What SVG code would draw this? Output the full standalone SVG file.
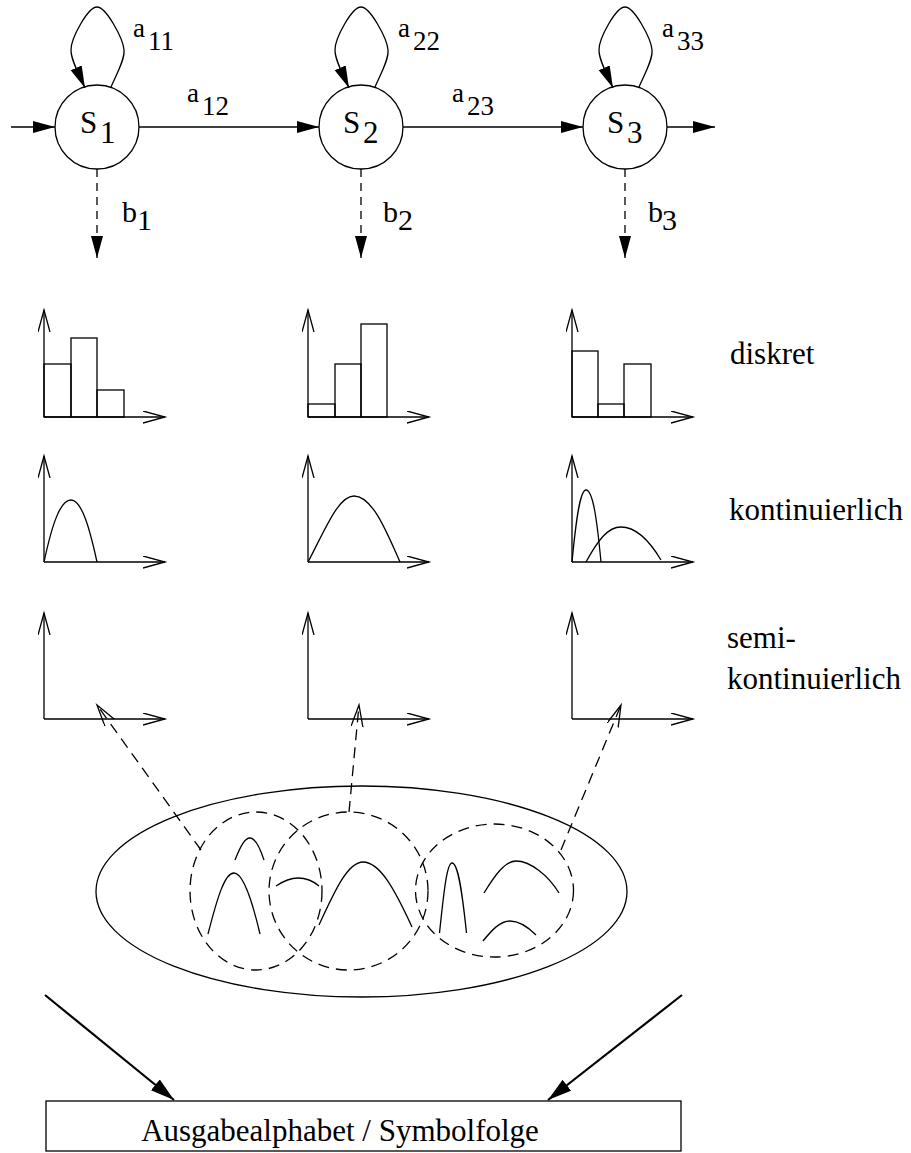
<svg xmlns="http://www.w3.org/2000/svg" width="911" height="1153" viewBox="0 0 911 1153" font-family="'Liberation Serif', 'Times New Roman', Times, serif">
  <style>
    .ln { fill: none; stroke: #000; stroke-width: 1.3; }
    .dash { fill: none; stroke: #000; stroke-width: 1.3; stroke-dasharray: 8 6; }
    .dashl { fill: none; stroke: #000; stroke-width: 1.3; stroke-dasharray: 11 7; }
    .thick { fill: none; stroke: #000; stroke-width: 2.2; }
    text { font-family: 'Liberation Serif', 'Times New Roman', Times, serif; fill: #000; }
    .lbl { font-size: 27px; }
    .lblb { font-size: 30px; }
    .big { font-size: 31px; }
  </style>
  <defs>
    <marker id="fill" markerUnits="userSpaceOnUse" markerWidth="24" markerHeight="14" refX="22" refY="6" orient="auto">
      <path d="M0,0 L22,6 L0,12 z" fill="#000" stroke="none"/>
    </marker>
    <marker id="fillbig" markerUnits="userSpaceOnUse" markerWidth="26" markerHeight="16" refX="24" refY="7" orient="auto">
      <path d="M0,0 L24,7 L0,14 z" fill="#000" stroke="none"/>
    </marker>
    <marker id="open" markerUnits="userSpaceOnUse" markerWidth="26" markerHeight="14" refX="22" refY="6" orient="auto">
      <path d="M0,0 L22,6 L0,12" fill="none" stroke="#000" stroke-width="1.3" stroke-dasharray="none"/>
    </marker>
  </defs>

  <!-- states -->
  <g id="s1">
    <circle class="ln" cx="97" cy="127" r="42"/>
    <text class="big" x="80" y="133">S<tspan x="100" y="143">1</tspan></text>
  </g>
  <g id="s2">
    <circle class="ln" cx="361" cy="127" r="42"/>
    <text class="big" x="343" y="133">S<tspan x="363" y="143">2</tspan></text>
  </g>
  <g id="s3">
    <circle class="ln" cx="625" cy="127" r="42"/>
    <text class="big" x="607" y="133">S<tspan x="627" y="143">3</tspan></text>
  </g>

  <!-- transition and emission labels -->
  <g id="labels">
    <text class="lbl" x="133" y="37">a<tspan x="148" y="50">11</tspan></text>
    <text class="lbl" x="398" y="37">a<tspan x="413" y="50">22</tspan></text>
    <text class="lbl" x="662" y="37">a<tspan x="677" y="50">33</tspan></text>
    <text class="lbl" x="187" y="102">a<tspan x="202" y="115">12</tspan></text>
    <text class="lbl" x="452" y="102">a<tspan x="467" y="115">23</tspan></text>
    <text class="lblb" x="122" y="222">b<tspan x="137" y="230">1</tspan></text>
    <text class="lblb" x="383" y="222">b<tspan x="398" y="230">2</tspan></text>
    <text class="lblb" x="648" y="222">b<tspan x="662" y="230">3</tspan></text>
  </g>

  <!-- connectors between states -->
  <g id="connectors">
    <!-- self loops -->
    <path class="ln" marker-end="url(#fill)" d="M111,87 C116,75 125,60 124,50 C123,38 106,7 97,7 C88,7 71,38 71,50 C71,60 78,72 85,88"/>
    <path class="ln" marker-end="url(#fill)" d="M375,87 C380,75 389,60 388,50 C387,38 370,7 361,7 C352,7 335,38 335,50 C335,60 342,72 349,88"/>
    <path class="ln" marker-end="url(#fill)" d="M639,87 C644,75 653,60 652,50 C651,38 634,7 625,7 C616,7 599,38 599,50 C599,60 606,72 613,88"/>
    <!-- entry, transitions, exit -->
    <line class="ln" marker-end="url(#fill)" x1="11" y1="127" x2="55" y2="127"/>
    <line class="ln" marker-end="url(#fill)" x1="139" y1="127" x2="319" y2="127"/>
    <line class="ln" marker-end="url(#fill)" x1="403" y1="127" x2="583" y2="127"/>
    <line class="ln" marker-end="url(#fill)" x1="667" y1="127" x2="715" y2="127"/>
    <!-- emissions -->
    <line class="dash" marker-end="url(#fill)" x1="97" y1="169" x2="97" y2="258"/>
    <line class="dash" marker-end="url(#fill)" x1="361" y1="169" x2="361" y2="258"/>
    <line class="dash" marker-end="url(#fill)" x1="625" y1="169" x2="625" y2="258"/>
  </g>

  <!-- discrete distributions -->
  <g id="diskret">
    <line class="ln" marker-end="url(#open)" x1="44" y1="417" x2="44" y2="310"/>
    <line class="ln" marker-end="url(#open)" x1="44" y1="417" x2="165" y2="417"/>
    <rect class="ln" x="44" y="364" width="27" height="53"/>
    <rect class="ln" x="71" y="338" width="26" height="79"/>
    <rect class="ln" x="97" y="390" width="27" height="27"/>

    <line class="ln" marker-end="url(#open)" x1="308" y1="417" x2="308" y2="310"/>
    <line class="ln" marker-end="url(#open)" x1="308" y1="417" x2="429" y2="417"/>
    <rect class="ln" x="308" y="404" width="27" height="13"/>
    <rect class="ln" x="335" y="364" width="26" height="53"/>
    <rect class="ln" x="361" y="324" width="26" height="93"/>

    <line class="ln" marker-end="url(#open)" x1="572" y1="417" x2="572" y2="310"/>
    <line class="ln" marker-end="url(#open)" x1="572" y1="417" x2="693" y2="417"/>
    <rect class="ln" x="572" y="351" width="26" height="66"/>
    <rect class="ln" x="598" y="404" width="26" height="13"/>
    <rect class="ln" x="624" y="364" width="27" height="53"/>

    <text class="big" x="730" y="364">diskret</text>
  </g>

  <!-- continuous distributions -->
  <g id="kontinuierlich">
    <line class="ln" marker-end="url(#open)" x1="44" y1="562" x2="44" y2="456"/>
    <line class="ln" marker-end="url(#open)" x1="44" y1="562" x2="165" y2="562"/>
    <path class="ln" d="M44,562 C52,525 60,500 71,500 C82,500 90,530 97,562"/>

    <line class="ln" marker-end="url(#open)" x1="308" y1="562" x2="308" y2="456"/>
    <line class="ln" marker-end="url(#open)" x1="308" y1="562" x2="429" y2="562"/>
    <path class="ln" d="M308,562 C325,530 338,496 354,496 C372,496 386,530 400,562"/>

    <line class="ln" marker-end="url(#open)" x1="572" y1="562" x2="572" y2="456"/>
    <line class="ln" marker-end="url(#open)" x1="572" y1="562" x2="693" y2="562"/>
    <path class="ln" d="M572,562 C576,520 580,490 586,490 C593,490 597,520 601,562"/>
    <path class="ln" d="M586,562 C598,540 608,527 621,527 C638,527 652,545 661,560"/>

    <text class="big" x="729" y="520">kontinuierlich</text>
  </g>

  <!-- semi-continuous distributions -->
  <g id="semikontinuierlich">
    <line class="ln" marker-end="url(#open)" x1="44" y1="719" x2="44" y2="613"/>
    <line class="ln" marker-end="url(#open)" x1="44" y1="719" x2="165" y2="719"/>
    <line class="ln" marker-end="url(#open)" x1="308" y1="719" x2="308" y2="613"/>
    <line class="ln" marker-end="url(#open)" x1="308" y1="719" x2="429" y2="719"/>
    <line class="ln" marker-end="url(#open)" x1="572" y1="719" x2="572" y2="613"/>
    <line class="ln" marker-end="url(#open)" x1="572" y1="719" x2="693" y2="719"/>
    <text class="big" x="727" y="648">semi-</text>
    <text class="big" x="727" y="689">kontinuierlich</text>
  </g>

  <!-- shared codebook of densities -->
  <g id="codebook">
    <ellipse class="ln" cx="361.5" cy="891.5" rx="265.5" ry="105.5"/>
    <ellipse class="dashl" cx="256" cy="891" rx="66" ry="79"/>
    <ellipse class="dashl" cx="348.5" cy="891" rx="79.5" ry="79"/>
    <ellipse class="dashl" cx="494.5" cy="890.5" rx="79" ry="66.5"/>
    <path class="ln" d="M235,860 C241,845 245,838 250,838 C255,838 259,845 264,860"/>
    <path class="ln" d="M208,934 C218,895 225,873 234,873 C243,873 252,900 260,934"/>
    <path class="ln" d="M276,886 C285,880 292,878 298,878 C305,878 312,880 319,886"/>
    <path class="ln" d="M319,925 C335,890 348,862 363,862 C380,862 395,890 412,927"/>
    <path class="ln" d="M439.5,933 C444,890 447,863 452,863 C458,863 462,890 466.5,933"/>
    <path class="ln" d="M484,893 C495,875 505,861 516,861 C530,861 548,875 559,893"/>
    <path class="ln" d="M483,941 C492,930 500,921 510,921 C520,921 528,927 536,935"/>
  </g>

  <!-- codebook references and output -->
  <g id="codebook-links">
    <line class="dashl" marker-end="url(#open)" x1="201" y1="850" x2="97" y2="705"/>
    <line class="dashl" marker-end="url(#open)" x1="349" y1="812" x2="359" y2="705"/>
    <line class="dashl" marker-end="url(#open)" x1="561" y1="850" x2="621" y2="705"/>
    <line class="thick" marker-end="url(#fillbig)" x1="45" y1="995" x2="174" y2="1100"/>
    <line class="thick" marker-end="url(#fillbig)" x1="682" y1="995" x2="548" y2="1100"/>
  </g>

  <g id="output">
    <rect class="ln" x="46" y="1101" width="635" height="50"/>
    <text class="big" x="340" y="1141" text-anchor="middle">Ausgabealphabet / Symbolfolge</text>
  </g>
</svg>
